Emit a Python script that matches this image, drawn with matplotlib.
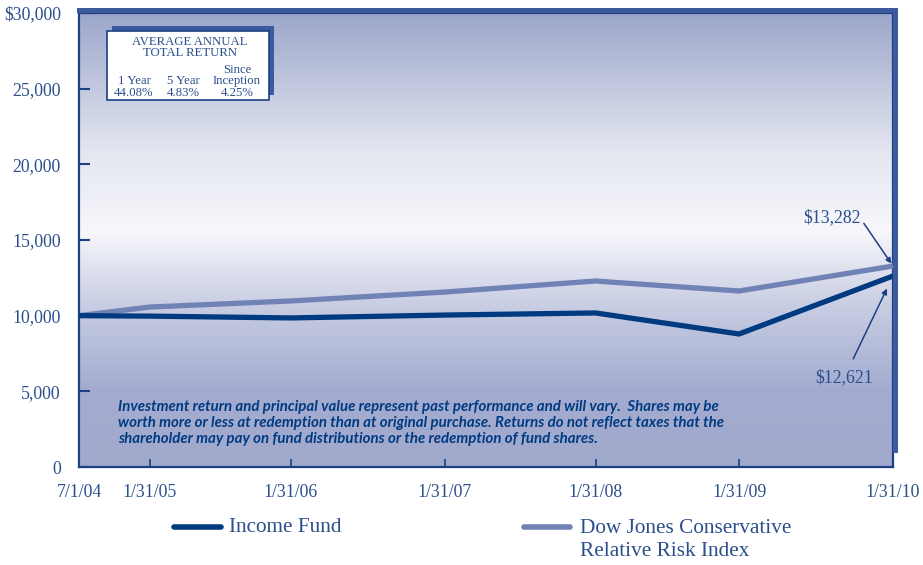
import numpy as np
import matplotlib
matplotlib.use("Agg")
import matplotlib.pyplot as plt
from matplotlib.colors import LinearSegmentedColormap
from matplotlib.patches import Rectangle

# Growth of a $10,000 investment
periods = ["7/1/04", "1/31/05", "1/31/06", "1/31/07", "1/31/08", "1/31/09", "1/31/10"]
period_pos = [0, 0.48, 1.43, 2.47, 3.49, 4.46, 5.5]
income_fund = [10000, 9970, 9850, 10040, 10180, 8790, 12621]
dj_index = [10000, 10570, 10970, 11560, 12290, 11630, 13282]

y_ticks = [0, 5000, 10000, 15000, 20000, 25000, 30000]
y_labels = ["0", "5,000", "10,000", "15,000", "20,000", "25,000", "$30,000"]

return_periods = ["1 Year", "5 Year", "Inception"]
return_values = ["44.08%", "4.83%", "4.25%"]

NAVY = "#003a80"
LIGHT = "#7183b6"
TEXT = "#2b4f8c"
FRAME = "#1d3f84"
SHADOW = "#3b5b9c"

SERIF = ["Liberation Serif", "DejaVu Serif"]

fig = plt.figure(figsize=(9.23, 5.65), dpi=100)
W, H = 923, 565
L, R, T, B = 79, 893, 13, 467
ax = fig.add_axes([L / W, 1 - B / H, (R - L) / W, (B - T) / H])
pw, ph = R - L, B - T

# vertical background gradient
grad = LinearSegmentedColormap.from_list("bg", [
    (0.00, "#a1aacd"),
    (0.17, "#a3acd0"),
    (0.35, "#c7cce2"),
    (0.52, "#f7f7fb"),
    (0.70, "#e3e6f0"),
    (1.00, "#9ca6ca"),
])
g = np.linspace(0, 1, 512).reshape(-1, 1)
ax.imshow(g, cmap=grad, aspect="auto", origin="lower",
          extent=[0, 1, 0, 1], transform=ax.transAxes, zorder=0)

ax.set_xlim(period_pos[0], period_pos[-1])
ax.set_ylim(0, 30000)

ax.plot(period_pos, dj_index, color=LIGHT, lw=3.8, solid_capstyle="butt",
        solid_joinstyle="miter", zorder=3, clip_on=False)
ax.plot(period_pos, income_fund, color=NAVY, lw=3.8, solid_capstyle="butt",
        solid_joinstyle="miter", zorder=4, clip_on=False)

# axes frame and offset shadow band
for side in ["left", "bottom", "top", "right"]:
    ax.spines[side].set_color(FRAME)
    ax.spines[side].set_linewidth(1.6)
ax.add_patch(Rectangle((-2 / pw, 1), 1 + 7 / pw, 5 / ph, transform=ax.transAxes,
                       color=SHADOW, clip_on=False, zorder=5, lw=0))
ax.add_patch(Rectangle((1, 14 / ph), 5 / pw, 1 + 5 / ph - 14 / ph,
                       transform=ax.transAxes, color=SHADOW, clip_on=False,
                       zorder=5, lw=0))

ax.set_yticks(y_ticks)
ax.set_yticklabels(y_labels)
ax.set_xticks(period_pos)
ax.set_xticklabels(periods)
ax.tick_params(axis="y", direction="in", length=8, width=1.5, color=FRAME,
               pad=13, labelsize=12.8, labelcolor=TEXT)
ax.tick_params(axis="x", direction="in", length=6, width=1.2, color=FRAME,
               pad=12, labelsize=12.8, labelcolor=TEXT)
for lbl in ax.get_xticklabels() + ax.get_yticklabels():
    lbl.set_family(SERIF)

# end value callouts
ax.annotate("$13,282", xy=(period_pos[-1], dj_index[-1]),
            xytext=(period_pos[-1] - 0.415, 16500), textcoords="data",
            ha="center", va="center", fontsize=12.8, color=TEXT, family=SERIF,
            arrowprops=dict(arrowstyle="-|>", color=FRAME, lw=1.1,
                            mutation_scale=8, shrinkA=1, shrinkB=2,
                            relpos=(1.0, 0.45)), zorder=6)
ax.annotate("$12,621", xy=(period_pos[-1], income_fund[-1]),
            xytext=(period_pos[-1] - 0.33, 5900), textcoords="data",
            ha="center", va="center", fontsize=12.8, color=TEXT, family=SERIF,
            arrowprops=dict(arrowstyle="-|>", color=FRAME, lw=1.1,
                            mutation_scale=8, shrinkA=6, shrinkB=10), zorder=6)

# disclaimer
ax.text(39 / pw, (B - 400) / ph,
        "Investment return and principal value represent past performance and will vary.  Shares may be\n"
        "worth more or less at redemption than at original purchase. Returns do not reflect taxes that the\n"
        "shareholder may pay on fund distributions or the redemption of fund shares.",
        transform=ax.transAxes, ha="left", va="top", fontsize=10.8,
        family=["Lato", "DejaVu Sans"], fontweight="bold", style="italic",
        color=NAVY, linespacing=1.18, zorder=6)

# average annual total return box
bx0, by0, bx1, by1 = 107, 100, 269, 31
ax.add_patch(Rectangle(((bx0 + 5 - L) / pw, (B - by0 + 5) / ph),
                       (bx1 - bx0) / pw, (by0 - by1) / ph, transform=ax.transAxes,
                       color=SHADOW, lw=0, zorder=6))
ax.add_patch(Rectangle(((bx0 - L) / pw, (B - by0) / ph),
                       (bx1 - bx0) / pw, (by0 - by1) / ph, transform=ax.transAxes,
                       facecolor="white", edgecolor=FRAME, lw=1.2, zorder=7))


def box_text(x, y, s, **kw):
    ax.text((x - L) / pw, (B - y) / ph, s, transform=ax.transAxes, ha="center",
            va="center", fontsize=9.2, family=SERIF, color=TEXT, zorder=8, **kw)


box_text(190, 42, "AVERAGE ANNUAL")
box_text(190, 53, "TOTAL RETURN")
box_text(237, 70, "Since")
for x, p, v in zip([134, 183, 237], return_periods, return_values):
    box_text(x, 81, p)
    box_text(x, 93, v)

# legend
fig.add_artist(plt.Line2D([174 / W, 221 / W], [1 - 527 / H] * 2, color=NAVY,
                          lw=4, solid_capstyle="round"))
fig.text(229 / W, 1 - 527 / H, "Income Fund", ha="left", va="center",
         fontsize=15.3, family=SERIF, color=TEXT)
fig.add_artist(plt.Line2D([524 / W, 570 / W], [1 - 527 / H] * 2, color=LIGHT,
                          lw=4, solid_capstyle="round"))
fig.text(580 / W, 1 - 540 / H, "Dow Jones Conservative\nRelative Risk Index",
         ha="left", va="center", fontsize=15.3, family=SERIF, color=TEXT,
         linespacing=1.3)

fig.savefig("out.png", dpi=100)
